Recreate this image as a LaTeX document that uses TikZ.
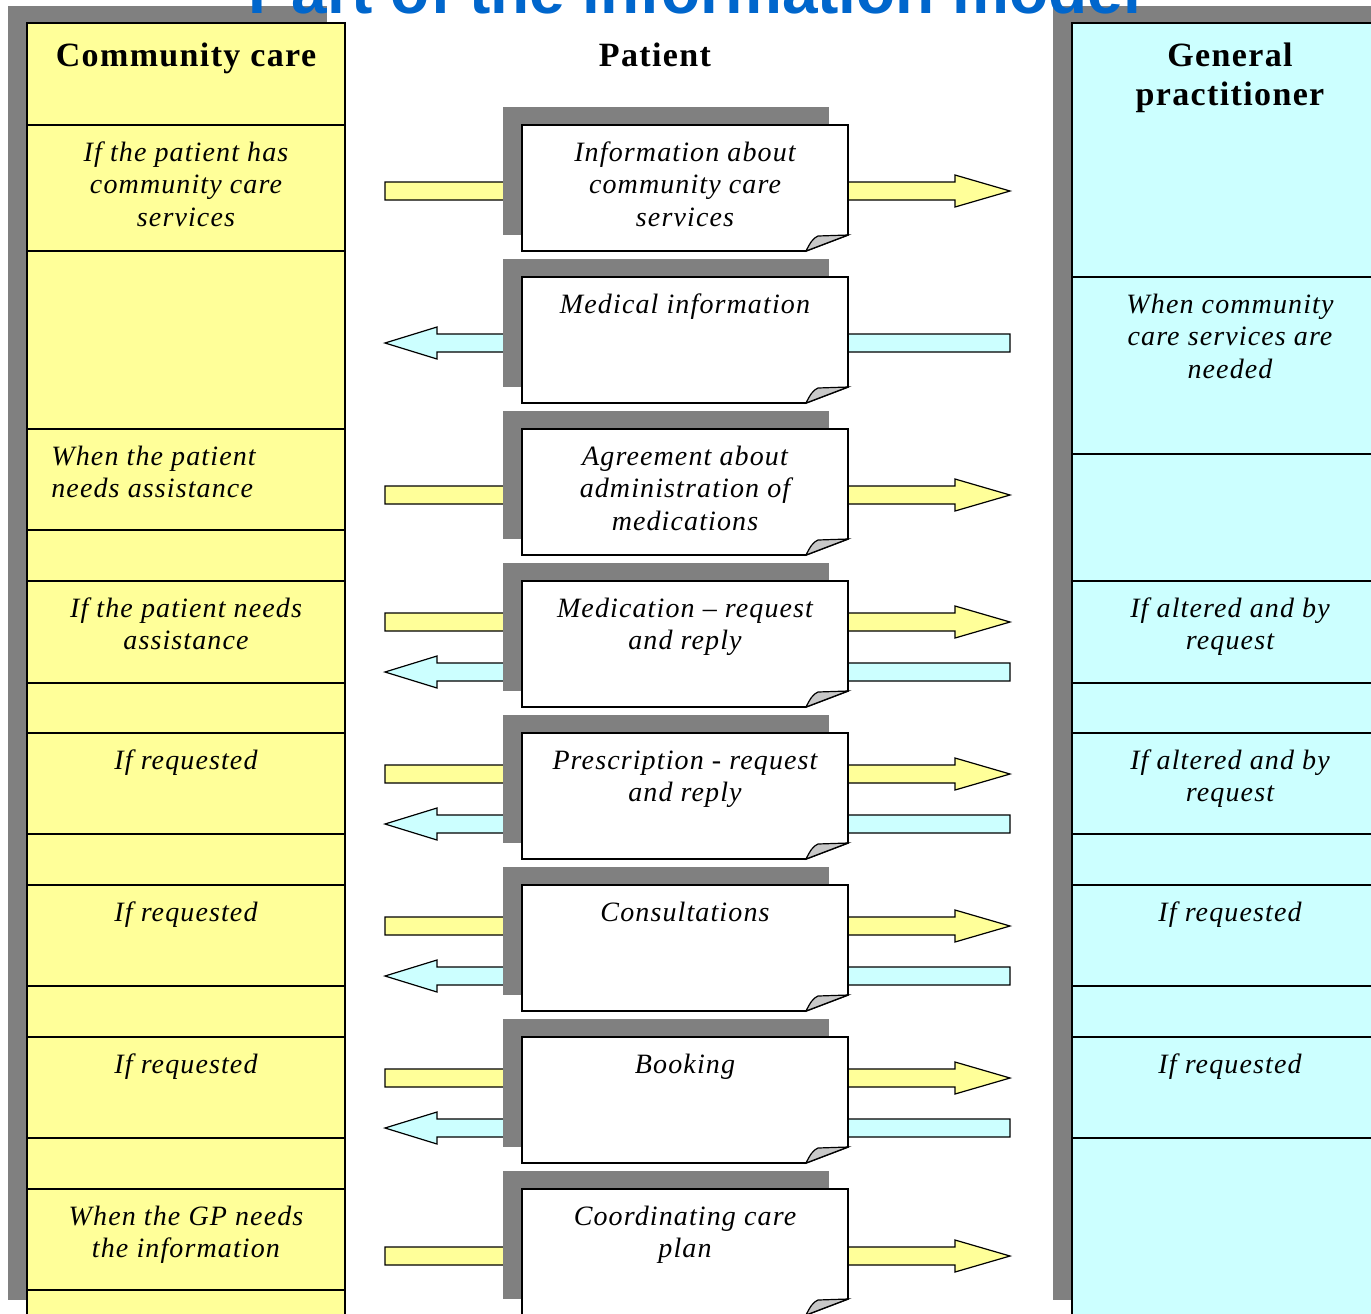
\documentclass[tikz,border=0pt]{standalone}
\usepackage{fontspec}
\setmainfont{Liberation Serif}
\newfontfamily\cellfont[LetterSpace=4]{Liberation Serif}
\newfontfamily\titlefont{Liberation Sans}
\definecolor{ccyellow}{HTML}{FFFF99}
\definecolor{gpcyan}{HTML}{CCFFFF}
\definecolor{shadowgray}{HTML}{808080}
\definecolor{curlgray}{HTML}{C8C8C8}
\definecolor{titleblue}{HTML}{0066CC}

\begin{document}
\begin{tikzpicture}[x=0.5pt,y=-0.5pt,
    cell/.style={font=\cellfont\itshape\fontsize{14}{16.25}\selectfont, align=center, anchor=base, inner sep=0pt},
    head/.style={font=\cellfont\bfseries\fontsize{17}{19.5}\selectfont, align=center, anchor=base, inner sep=0pt},
    frame/.style={draw=black, line width=0.8pt},
    shade/.style={fill=shadowgray},
    yarrow/.style={fill=ccyellow, draw=black, line width=0.6pt},
    carrow/.style={fill=gpcyan, draw=black, line width=0.6pt}]
    \useasboundingbox (0,0) rectangle (1371,1313);

    % Community care column
    \fill[shade] (8,6) rectangle (327,1300);
    \draw[frame, fill=ccyellow] (27,23) rectangle (345,1340);
    \foreach \y in {125,251,429,530,581,683,733,834,885,986,1037,1138,1189,1290}
        \draw[frame] (27,\y) -- (345,\y);

    % General practitioner column
    \fill[shade] (1053,6) rectangle (1381,1300);
    \draw[frame, fill=gpcyan] (1072,23) rectangle (1400,1340);
    \foreach \y in {277,454,581,683,733,834,885,986,1037,1138}
        \draw[frame] (1072,\y) -- (1400,\y);

    % Arrows to the GP
    \foreach \c in {191,495,622,774,926,1078,1256}
        \draw[yarrow] (385,{\c-9}) -- (955,{\c-9}) -- (955,{\c-16}) -- (1010,\c) -- (955,{\c+16}) -- (955,{\c+9}) -- (385,{\c+9}) -- cycle;
    % Arrows to community care
    \foreach \c in {343,672,824,976,1128}
        \draw[carrow] (1010,{\c-9}) -- (437,{\c-9}) -- (437,{\c-16}) -- (385,\c) -- (437,{\c+16}) -- (437,{\c+9}) -- (1010,{\c+9}) -- cycle;

    % Documents with folded corner
    \foreach \t in {125,277,429,581,733,885,1037,1189} {
        \fill[shade] (503,{\t-18}) rectangle (829,{\t+110});
        \draw[frame, fill=white] (522,\t) -- (848,\t) -- (848,{\t+110}) -- (806,{\t+126}) -- (522,{\t+126}) -- cycle;
        \draw[fill=curlgray, line width=0.6pt] (806,{\t+126}) .. controls (810,{\t+118}) and (813,{\t+113}) .. (818,{\t+111}) -- (848,{\t+110}) -- cycle;
    }

    % Headings (base = last line)
    \node[head] (cchead) at (186,66) {Community care};
    \node[head] (pthead) at (655,66) {Patient};
    \node[head] (gphead) at (1230,105) {General\\practitioner};

    % Community care conditions
    \node[cell] (cc1) at (186,226) {If the patient has\\community care\\services};
    \node[cell, anchor=base west, align=left] (cc2) at (51,497.5) {When the patient\\needs assistance};
    \node[cell] (cc3) at (186,649.5) {If the patient needs\\assistance};
    \node[cell] (cc4) at (186,769) {If requested};
    \node[cell] (cc5) at (186,921) {If requested};
    \node[cell] (cc6) at (186,1073) {If requested};
    \node[cell] (cc7) at (186,1257.5) {When the GP needs\\the information};

    % Documents
    \node[cell] (doc1) at (685,226) {Information about\\community care\\services};
    \node[cell] (doc2) at (685,313) {Medical information};
    \node[cell] (doc3) at (685,530) {Agreement about\\administration of\\medications};
    \node[cell] (doc4) at (685,649.5) {Medication – request\\and reply};
    \node[cell] (doc5) at (685,801.5) {Prescription - request\\and reply};
    \node[cell] (doc6) at (685,921) {Consultations};
    \node[cell] (doc7) at (685,1073) {Booking};
    \node[cell] (doc8) at (685,1257.5) {Coordinating care\\plan};

    % GP conditions
    \node[cell] (gp1) at (1230,378) {When community\\care services are\\needed};
    \node[cell] (gp2) at (1230,649.5) {If altered and by\\request};
    \node[cell] (gp3) at (1230,801.5) {If altered and by\\request};
    \node[cell] (gp4) at (1230,921) {If requested};
    \node[cell] (gp5) at (1230,1073) {If requested};

    % Title, cut by the page edge
    \node[font=\titlefont\bfseries\fontsize{32}{38}\selectfont, text=titleblue, anchor=base, inner sep=0pt] (title) at (695,13) {Part of the information model};
\end{tikzpicture}
\end{document}
